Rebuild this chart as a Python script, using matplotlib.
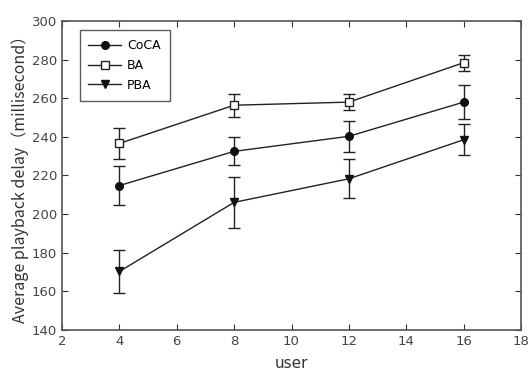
import matplotlib
matplotlib.use("Agg")
import matplotlib.pyplot as plt
from matplotlib.lines import Line2D

users = [4, 8, 12, 16]
coca = [214.8, 232.5, 240.3, 258.0]
coca_err = [10.2, 7.3, 8.1, 8.7]
ba = [236.6, 256.4, 258.0, 278.4]
ba_err = [7.9, 6.0, 4.0, 4.1]
pba = [170.3, 206.1, 218.3, 238.5]
pba_err = [11.3, 13.3, 10.0, 8.0]

fig = plt.figure(figsize=(5.28, 3.76), dpi=100)
ax = fig.add_axes([62/528, 1-330/376, (521-62)/528, (330-21)/376])

kw = dict(color='#222222', lw=1.0, capsize=4, elinewidth=1.0, capthick=1.0, markersize=5.5)
ax.errorbar(users, coca, yerr=coca_err, marker='o', mfc='#111111', mec='#111111', **kw)
ax.errorbar(users, ba, yerr=ba_err, marker='s', mfc='white', mec='#222222', **kw)
ax.errorbar(users, pba, yerr=pba_err, marker='v', mfc='#111111', mec='#111111', **kw)

ax.set_xlim(2, 18)
ax.set_ylim(140, 300)
ax.set_xticks(range(2, 19, 2))
ax.set_yticks(range(140, 301, 20))
ax.tick_params(direction='in', top=True, right=True, length=4, labelsize=9.5, colors='#333333', labelcolor='#444444')
for s in ax.spines.values():
    s.set_color('#555555')
    s.set_linewidth(1.2)

ax.set_xlabel('user', fontsize=11, color='#333333', labelpad=6)
ax.set_ylabel('Average playback delay（millisecond）', fontsize=11.5, color='#333333',
              family=['Noto Sans CJK SC', 'DejaVu Sans'], labelpad=2)

handles = [
    Line2D([], [], color='#222222', lw=1.0, marker='o', mfc='#111111', mec='#111111', ms=5.5),
    Line2D([], [], color='#222222', lw=1.0, marker='s', mfc='white', mec='#222222', ms=5.5),
    Line2D([], [], color='#222222', lw=1.0, marker='v', mfc='#111111', mec='#111111', ms=5.5),
]
leg = ax.legend(handles, ['CoCA', 'BA', 'PBA'], loc='upper left', bbox_to_anchor=(0.025, 0.99),
                fontsize=9, frameon=True, fancybox=False, edgecolor='#333333', handlelength=2.6,
                handletextpad=0.5, borderpad=0.7, labelspacing=0.55)
leg.get_frame().set_linewidth(1.0)

fig.savefig('out.png', dpi=100)
